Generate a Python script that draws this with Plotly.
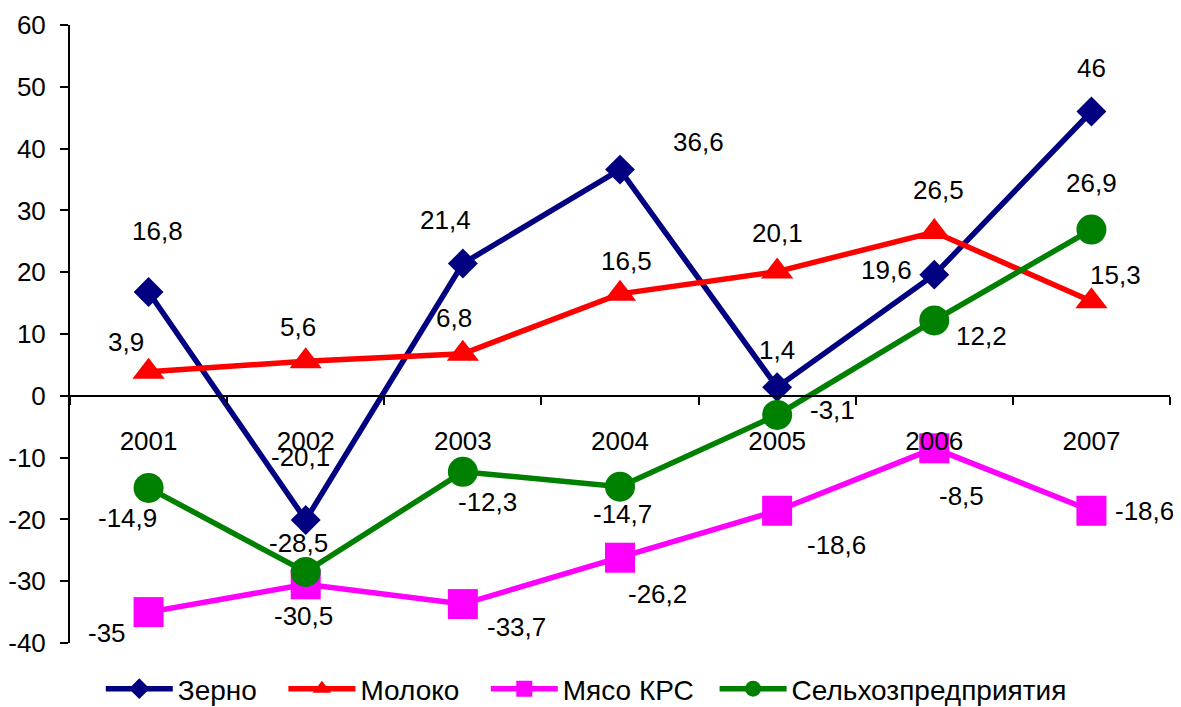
import plotly.graph_objects as go

years = ["2001", "2002", "2003", "2004", "2005", "2006", "2007"]
series_names = ["Зерно", "Молоко", "Мясо КРС", "Сельхозпредприятия"]
zerno = [16.8, -20.1, 21.4, 36.6, 1.4, 19.6, 46]
moloko = [3.9, 5.6, 6.8, 16.5, 20.1, 26.5, 15.3]
myaso = [-35, -30.5, -33.7, -26.2, -18.6, -8.5, -18.6]
selhoz = [-14.9, -28.5, -12.3, -14.7, -3.1, 12.2, 26.9]
y_ticks = [-40, -30, -20, -10, 0, 10, 20, 30, 40, 50, 60]
y_tick_text = ["-40", "-30", "-20", "-10", "0", "10", "20", "30", "40", "50", "60"]

series_values = [zerno, moloko, myaso, selhoz]

# styles
colors = ["#000080", "#FF0000", "#FF00FF", "#008000"]
symbols = ["diamond", "triangle-up", "square", "circle"]
msizes = [23, 28, 30, 30]
legend_ids = ["legend", "legend2", "legend3", "legend4"]
legend_x = [0.028, 0.194, 0.378, 0.586]

# label offsets in pixels (dx, dy up-positive)
offsets = [
    [(9, 61), (-5, 63), (-17, 44), (78, 28), (0, 37), (-48, 5), (0, 44)],
    [(-23, 30), (-8, 34), (-9, 36), (6, 33), (0, 39), (4, 42), (24, 26)],
    [(-42, -21), (-2, -32), (54, -23), (37, -36), (59, -34), (27, -48), (53, 0)],
    [(-21, -30), (-7, 29), (25, -30), (2, -27), (55, 5), (47, -16), (0, 47)],
]

FONT = "Liberation Sans, Arial, sans-serif"
FS = 26
LEG_FS = 28

def fmt(v):
    s = ("%g" % v)
    return s.replace(".", ",")

fig = go.Figure()
for name, vals, c, sym, ms, lg in zip(series_names, series_values, colors, symbols, msizes, legend_ids):
    fig.add_trace(go.Scatter(
        x=list(range(len(years))), y=vals, name=name, mode="lines+markers",
        line=dict(color=c, width=5.5),
        marker=dict(symbol=sym, size=ms, color=c),
        cliponaxis=False, legend=lg,
    ))

annotations = []
for vals, offs in zip(series_values, offsets):
    for i, (v, (dx, dy)) in enumerate(zip(vals, offs)):
        annotations.append(dict(
            x=i, y=v, xref="x", yref="y", text=fmt(v), showarrow=False,
            xshift=dx, yshift=dy, font=dict(family=FONT, size=FS, color="black"),
        ))

legend_style = dict(orientation="h", xanchor="left", y=-0.034, yanchor="top",
                    font=dict(family=FONT, size=LEG_FS, color="black"),
                    itemwidth=67, bgcolor="rgba(0,0,0,0)")
legends = {lg: dict(legend_style, x=lx) for lg, lx in zip(legend_ids, legend_x)}

fig.update_layout(
    width=1173, height=699,
    paper_bgcolor="white", plot_bgcolor="white",
    margin=dict(l=62, r=11, t=17, b=64, autoexpand=False),
    font=dict(family=FONT, size=FS, color="black"),
    showlegend=True,
    annotations=annotations,
    xaxis=dict(
        type="linear", anchor="free", position=0.4,
        tickvals=list(range(len(years))), ticktext=years,
        showline=True, linecolor="black", linewidth=2,
        ticks="", showgrid=False, zeroline=False,
        ticklabelstandoff=22,
        tickfont=dict(family=FONT, size=FS, color="black"),
        range=[-0.5, 6.5], automargin=False,
    ),
    yaxis=dict(
        range=[-40, 60], tickvals=y_ticks, ticktext=y_tick_text,
        showline=True, linecolor="black", linewidth=2,
        ticks="outside", ticklen=8, tickwidth=2, tickcolor="black",
        showgrid=False, zeroline=False, automargin=False,
        ticklabelstandoff=9,
        tickfont=dict(family=FONT, size=FS, color="black"),
    ),
    **legends,
)

# boundary tick marks on the category axis (drawn via minor ticks)
fig.update_xaxes(minor=dict(tickvals=[i + 0.5 for i in range(-1, len(years))],
                            ticks="outside", ticklen=8, tickwidth=2, tickcolor="black"))

fig.write_html("out.html")
